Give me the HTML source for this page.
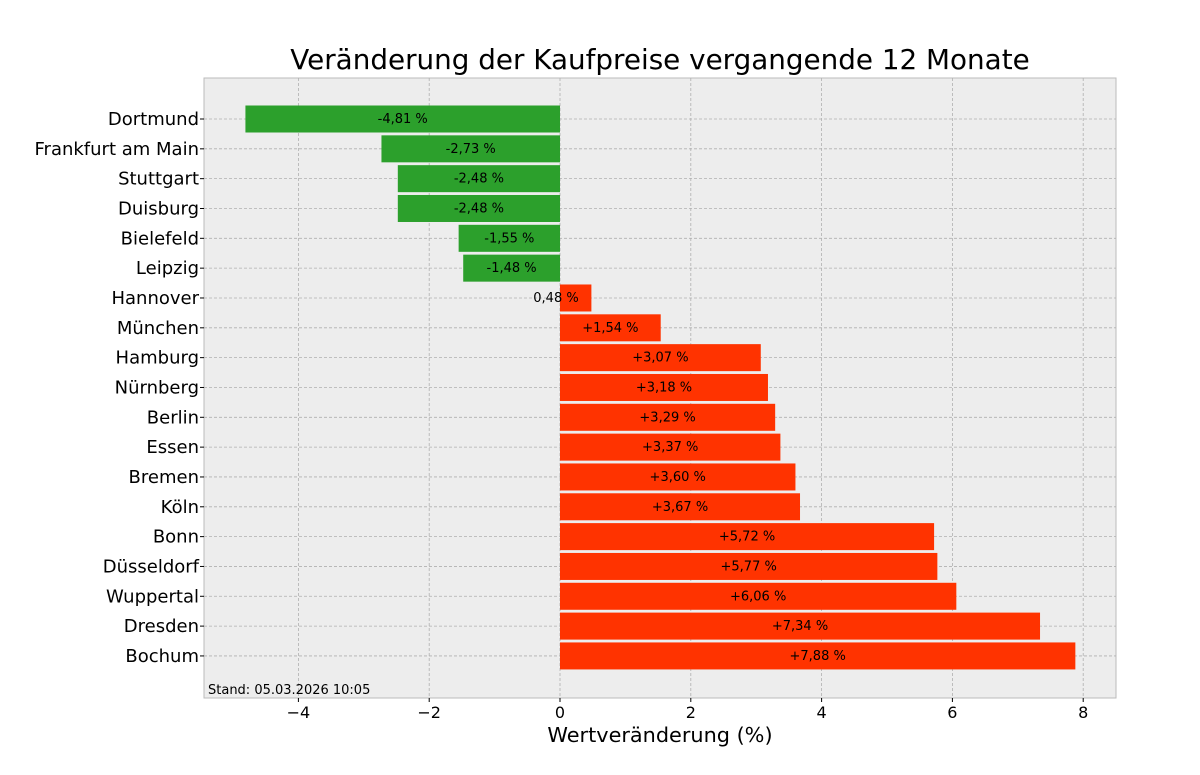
<!DOCTYPE html>
<html><head><meta charset="utf-8"><style>body{margin:0;background:#fff}svg{display:block}text{font-family:"DejaVu Sans","Liberation Sans",sans-serif}</style></head>
<body>
<svg width="1200" height="775" xmlns="http://www.w3.org/2000/svg">
<rect x="204" y="78" width="912" height="620" fill="#ededed" stroke="#bbb" stroke-width="1"/>
<g stroke="#b0b0b0" stroke-width="0.8" stroke-dasharray="3,2">
<line x1="298.4" y1="78" x2="298.4" y2="698"/><line x1="429.2" y1="78" x2="429.2" y2="698"/><line x1="560" y1="78" x2="560" y2="698"/><line x1="690.8" y1="78" x2="690.8" y2="698"/><line x1="821.6" y1="78" x2="821.6" y2="698"/><line x1="952.4" y1="78" x2="952.4" y2="698"/><line x1="1083.2" y1="78" x2="1083.2" y2="698"/>
</g>
<g id="grid"></g>
<g id="bars"></g>
<g id="rows" font-size="13" text-anchor="middle"></g>
<g font-size="18" text-anchor="end" fill="#000" id="ylab"></g>
<g font-size="16" text-anchor="middle">
<text x="298.4" y="718">−4</text><text x="429.2" y="718">−2</text><text x="560" y="718">0</text><text x="690.8" y="718">2</text><text x="821.6" y="718">4</text><text x="952.4" y="718">6</text><text x="1083.2" y="718">8</text>
</g>
<g stroke="#000" stroke-width="1">
<line x1="298.4" y1="698" x2="298.4" y2="702"/><line x1="429.2" y1="698" x2="429.2" y2="702"/><line x1="560" y1="698" x2="560" y2="702"/><line x1="690.8" y1="698" x2="690.8" y2="702"/><line x1="821.6" y1="698" x2="821.6" y2="702"/><line x1="952.4" y1="698" x2="952.4" y2="702"/><line x1="1083.2" y1="698" x2="1083.2" y2="702"/>
</g>
<text x="660" y="69" font-size="27.8" text-anchor="middle">Veränderung der Kaufpreise vergangende 12 Monate</text>
<text x="660" y="742" font-size="20.8" text-anchor="middle">Wertveränderung (%)</text>
<text x="208" y="694" font-size="13">Stand: 05.03.2026 10:05</text>
</svg>
<script>
var d=[["Dortmund",-4.81,"-4,81 %"],["Frankfurt am Main",-2.73,"-2,73 %"],["Stuttgart",-2.48,"-2,48 %"],["Duisburg",-2.48,"-2,48 %"],["Bielefeld",-1.55,"-1,55 %"],["Leipzig",-1.48,"-1,48 %"],["Hannover",0.48,"0,48 %"],["München",1.54,"+1,54 %"],["Hamburg",3.07,"+3,07 %"],["Nürnberg",3.18,"+3,18 %"],["Berlin",3.29,"+3,29 %"],["Essen",3.37,"+3,37 %"],["Bremen",3.60,"+3,60 %"],["Köln",3.67,"+3,67 %"],["Bonn",5.72,"+5,72 %"],["Düsseldorf",5.77,"+5,77 %"],["Wuppertal",6.06,"+6,06 %"],["Dresden",7.34,"+7,34 %"],["Bochum",7.88,"+7,88 %"]];
var s="",b="",g="",y="";
d.forEach(function(r,i){var c=119+i*29.83,x0=560,x1=560+r[1]*65.4,l=Math.min(x0,x1),w=Math.abs(x1-x0);
b+='<rect x="'+l+'" y="'+(c-13.5)+'" width="'+w+'" height="27" fill="'+(r[1]<0?'#2ca02c':'#ff3300')+'"/>';
var tx=r[1]==0.48?556:(x0+x1)/2;
s+='<text x="'+tx+'" y="'+(c+4)+'">'+r[2]+'</text>';
y+='<text x="199" y="'+(c+6)+'">'+r[0]+'</text><line x1="200" y1="'+c+'" x2="204" y2="'+c+'" stroke="#000"/>';
g+='<line x1="204" y1="'+c+'" x2="1116" y2="'+c+'" stroke="#b0b0b0" stroke-width="0.8" stroke-dasharray="3,2"/>';});
document.getElementById("rows").innerHTML=s;document.getElementById("bars").innerHTML=b;document.getElementById("grid").innerHTML=g;document.getElementById("ylab").innerHTML=y;
</script>
</body></html>
